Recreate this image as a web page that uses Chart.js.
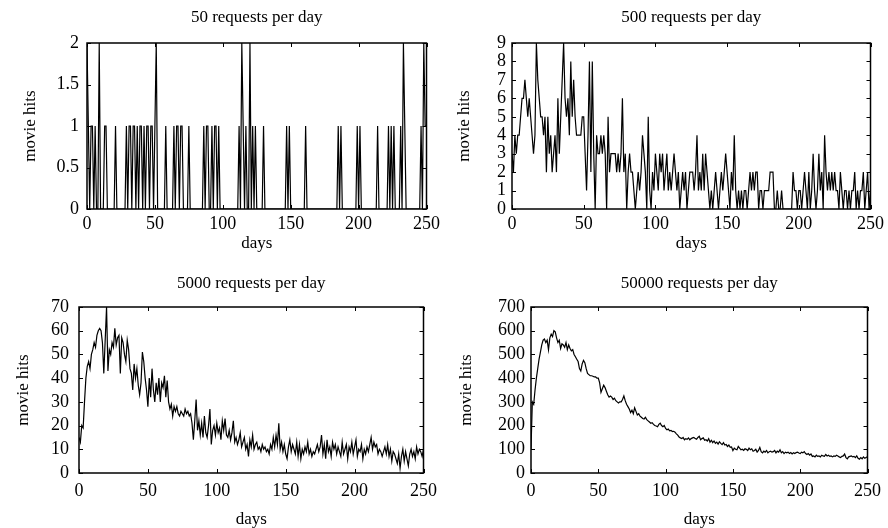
<!DOCTYPE html>
<html>
<head>
<meta charset="utf-8">
<script src="https://cdn.jsdelivr.net/npm/chart.js@4.4.0/dist/chart.umd.min.js"></script>
<style>
  body { margin: 0; background: #fff; }
  #page { position: relative; width: 888px; height: 528px; }
  canvas { position: absolute; }
</style>
</head>
<body>
<div id="page">
  <canvas id="c50" width="444" height="264" style="left:0;top:0"></canvas>
  <canvas id="c500" width="444" height="264" style="left:444px;top:0"></canvas>
  <canvas id="c5000" width="444" height="264" style="left:0;top:264px"></canvas>
  <canvas id="c50000" width="444" height="264" style="left:444px;top:264px"></canvas>
</div>
<script>
// movie hits per day, days 0..250
const hits50 = [
  2,1,0,1,1,0,1,0,0,2, 0,0,0,1,1,0,0,0,0,0, 0,1,0,0,0,0,0,0,0,1,
  0,1,1,0,1,1,0,1,0,1, 1,0,1,0,1,1,0,1,1,0, 1,2,0,0,0,0,0,0,1,0,
  0,0,0,0,1,0,1,1,0,1, 1,0,0,0,0,1,0,0,0,0, 0,0,0,0,0,0,1,0,1,1,
  0,0,1,0,1,1,0,1,0,0, 0,0,0,0,0,0,0,0,0,0, 0,0,1,0,2,1,0,1,0,0,
  2,0,1,0,1,0,0,0,0,0, 1,0,0,0,0,0,0,0,0,0, 0,0,0,0,0,0,0,1,0,1,
  0,0,0,0,0,0,0,0,0,0, 0,1,0,0,0,0,0,0,0,0, 0,0,0,0,0,0,0,0,0,0,
  0,0,0,0,0,1,0,1,0,0, 0,0,0,0,0,0,0,0,0,1, 0,1,0,0,0,0,0,0,0,0,
  0,0,0,0,1,0,0,0,0,0, 0,0,1,0,1,0,1,0,0,0, 0,1,0,2,1,0,0,0,0,0,
  0,0,0,0,0,0,1,0,2,1, 1
];

const hits500 = [
  3,2,4,3,4,4,5,6,6,7, 6,5,6,5,4,3,4,9,7,6, 5,5,4,5,2,5,3,4,2,3,
  4,2,6,3,5,7,9,6,5,6, 4,8,5,7,5,4,4,4,4,5, 5,3,1,4,8,2,8,3,0,4,
  3,3,4,3,4,3,0,5,2,3, 3,3,3,2,3,2,3,6,2,3, 0,2,3,2,2,1,0,1,2,1,
  2,4,3,2,0,5,1,0,2,1, 3,2,1,3,2,3,1,2,3,1, 2,1,2,3,2,1,2,0,1,2,
  1,2,0,1,2,2,2,1,2,4, 1,2,1,3,1,3,2,1,0,1, 0,1,2,1,0,1,2,1,2,3,
  2,1,0,2,1,4,1,0,1,0, 1,0,1,1,0,1,2,1,2,1, 2,2,0,1,1,0,1,1,1,1,
  2,2,2,0,0,1,0,0,1,0, 0,0,0,0,0,0,2,1,1,0, 1,1,0,1,2,1,0,2,0,1,
  3,1,0,1,3,1,2,0,4,2, 1,2,1,2,1,2,1,1,0,2, 1,0,1,1,0,1,0,1,1,2,
  0,1,0,1,1,2,0,1,2,0, 1
];

const hits5000 = [
  15,13,20,19,30,40,45,47,44,50, 52,55,53,58,60,61,60,55,42,56,
  70,43,52,50,55,53,61,54,57,58, 42,57,55,50,47,56,52,44,42,35,
  46,40,44,37,33,38,51,47,40,35, 28,40,32,44,35,30,38,33,40,30,
  38,36,41,32,39,30,27,29,24,28, 26,28,25,24,26,25,24,27,25,26,
  24,25,21,14,22,31,18,22,16,21, 15,24,17,15,20,27,12,18,20,16,
  21,17,19,14,22,18,23,16,15,18, 14,17,22,13,15,12,14,17,11,13,
  15,10,12,7,14,11,16,10,12,13, 10,11,9,12,10,11,9,10,8,12,
  10,15,11,16,12,21,10,13,9,12, 8,6,11,14,9,12,10,8,13,7,
  12,6,10,8,11,9,13,8,10,7, 9,8,10,12,9,11,16,8,12,6,
  14,9,11,7,13,10,12,8,11,9, 7,13,8,10,12,6,11,9,13,8,
  11,14,7,10,9,12,6,10,8,11, 9,12,15,10,13,11,12,8,10,9,
  7,9,11,8,12,7,10,5,9,8, 6,4,8,2,7,10,5,9,6,3,
  8,10,7,9,6,11,8,10,9,7, 10
];

const hits50000 = [
  100,300,290,350,400,440,480,510,540,560, 565,550,560,520,570,585,575,600,595,570,
  550,560,525,545,540,530,550,520,540,525, 515,520,500,490,480,470,440,430,460,475,
  465,440,420,415,410,410,408,405,405,400, 400,380,340,355,370,360,345,330,320,325,
  320,310,315,305,300,295,300,300,310,325, 305,290,280,270,255,265,250,275,260,245,
  250,240,235,230,228,235,225,220,215,210, 212,205,200,198,195,205,210,200,195,200,
  188,182,185,178,180,175,176,172,165,160, 152,148,145,150,140,145,142,148,140,145,
  148,150,145,142,150,155,140,145,148,138, 140,135,145,130,138,128,135,125,130,122,
  132,125,120,128,118,120,112,118,108,110, 95,105,100,98,112,105,98,100,95,102,
  100,95,105,98,102,92,95,100,88,95, 108,90,85,92,88,95,85,90,92,88,
  90,95,85,92,88,98,85,90,82,88, 85,88,82,86,80,85,82,86,88,84,
  82,88,85,90,82,78,82,75,80,70, 72,68,75,70,72,68,75,72,70,78,
  72,75,70,72,68,72,70,75,72,68, 65,70,72,80,65,60,68,70,72,68,
  70,65,72,62,58,65,60,68,62,65, 70
];

const days = hits50.map((_, i) => i);

const panelTitles = ['50 requests per day', '500 requests per day', '5000 requests per day', '50000 requests per day'];
const yMaxes = [2, 9, 70, 700];
const ySteps = [0.5, 1, 10, 100];

const FONT = 'Liberation Serif';

// box around the plot with inward tick marks on all four sides
const framePlugin = {
    id: 'frame',
    afterDatasetsDraw(chart) {
        const { ctx, chartArea: a, scales: { x, y } } = chart;
        ctx.save();
        ctx.strokeStyle = '#000';
        ctx.lineWidth = 1.5;
        ctx.strokeRect(a.left, a.top, a.right - a.left, a.bottom - a.top);
        ctx.lineWidth = 1;
        ctx.beginPath();
        x.ticks.forEach(t => {
            const px = Math.round(x.getPixelForValue(t.value)) + 0.5;
            ctx.moveTo(px, a.bottom); ctx.lineTo(px, a.bottom - 4);
            ctx.moveTo(px, a.top); ctx.lineTo(px, a.top + 4);
        });
        y.ticks.forEach(t => {
            const py = Math.round(y.getPixelForValue(t.value)) + 0.5;
            ctx.moveTo(a.left, py); ctx.lineTo(a.left + 4, py);
            ctx.moveTo(a.right, py); ctx.lineTo(a.right - 4, py);
        });
        ctx.stroke();
        ctx.restore();
    }
};

function makePanel(id, idx, values, lay) {
    const ctx = document.getElementById(id).getContext('2d');
    return new Chart(ctx, {
        type: 'line',
        data: {
            labels: days,
            datasets: [{
                data: values,
                borderColor: '#000',
                borderWidth: 1.2,
                pointRadius: 0,
                tension: 0,
                fill: false
            }]
        },
        options: {
            responsive: false,
            animation: false,
            devicePixelRatio: 1,
            layout: { padding: { left: 0, right: 16, top: 0, bottom: 0 } },
            plugins: {
                legend: { display: false },
                tooltip: { enabled: false },
                title: {
                    display: true,
                    text: panelTitles[idx],
                    fullSize: false,
                    color: '#000',
                    font: { family: FONT, size: 17, weight: 'normal' },
                    padding: { top: lay.titleTop, bottom: 22.6 - lay.titleTop }
                }
            },
            scales: {
                x: {
                    type: 'linear',
                    min: 0,
                    max: 250,
                    grid: { display: false, drawTicks: false },
                    border: { display: false },
                    ticks: {
                        stepSize: 50,
                        padding: lay.xTickPad,
                        maxRotation: 0,
                        autoSkip: false,
                        color: '#000',
                        font: { family: FONT, size: 18 }
                    },
                    title: {
                        display: true,
                        text: 'days',
                        color: '#000',
                        font: { family: FONT, size: 17, lineHeight: lay.xTitleLine },
                        padding: { top: 0, bottom: lay.xTitlePad }
                    },
                    afterFit(scale) { scale.height = 55; }
                },
                y: {
                    min: 0,
                    max: yMaxes[idx],
                    grid: { display: false, drawTicks: false },
                    border: { display: false },
                    ticks: {
                        stepSize: ySteps[idx],
                        padding: lay.yTickPad,
                        autoSkip: false,
                        color: '#000',
                        font: { family: FONT, size: 18 },
                        callback: value => String(value)
                    },
                    title: {
                        display: true,
                        text: 'movie hits',
                        color: '#000',
                        font: { family: FONT, size: 17 },
                        padding: { top: lay.yTitlePad, bottom: 0 }
                    },
                    afterFit(scale) { scale.width = lay.yAxisWidth; }
                }
            }
        },
        plugins: [framePlugin]
    });
}

makePanel('c50', 0, hits50, { yAxisWidth: 87, yTickPad: 8, yTitlePad: 20, xTickPad: 4, xTitlePad: 10, xTitleLine: 1.2, titleTop: 7 });
makePanel('c500', 1, hits500, { yAxisWidth: 68, yTickPad: 6, yTitlePad: 10, xTickPad: 4, xTitlePad: 10, xTitleLine: 1.2, titleTop: 7 });
makePanel('c5000', 2, hits5000, { yAxisWidth: 79, yTickPad: 10, yTitlePad: 13, xTickPad: 7, xTitlePad: 0, xTitleLine: 1, titleTop: 9 });
makePanel('c50000', 3, hits50000, { yAxisWidth: 87, yTickPad: 6, yTitlePad: 12, xTickPad: 7, xTitlePad: 0, xTitleLine: 1, titleTop: 9 });
</script>
</body>
</html>
